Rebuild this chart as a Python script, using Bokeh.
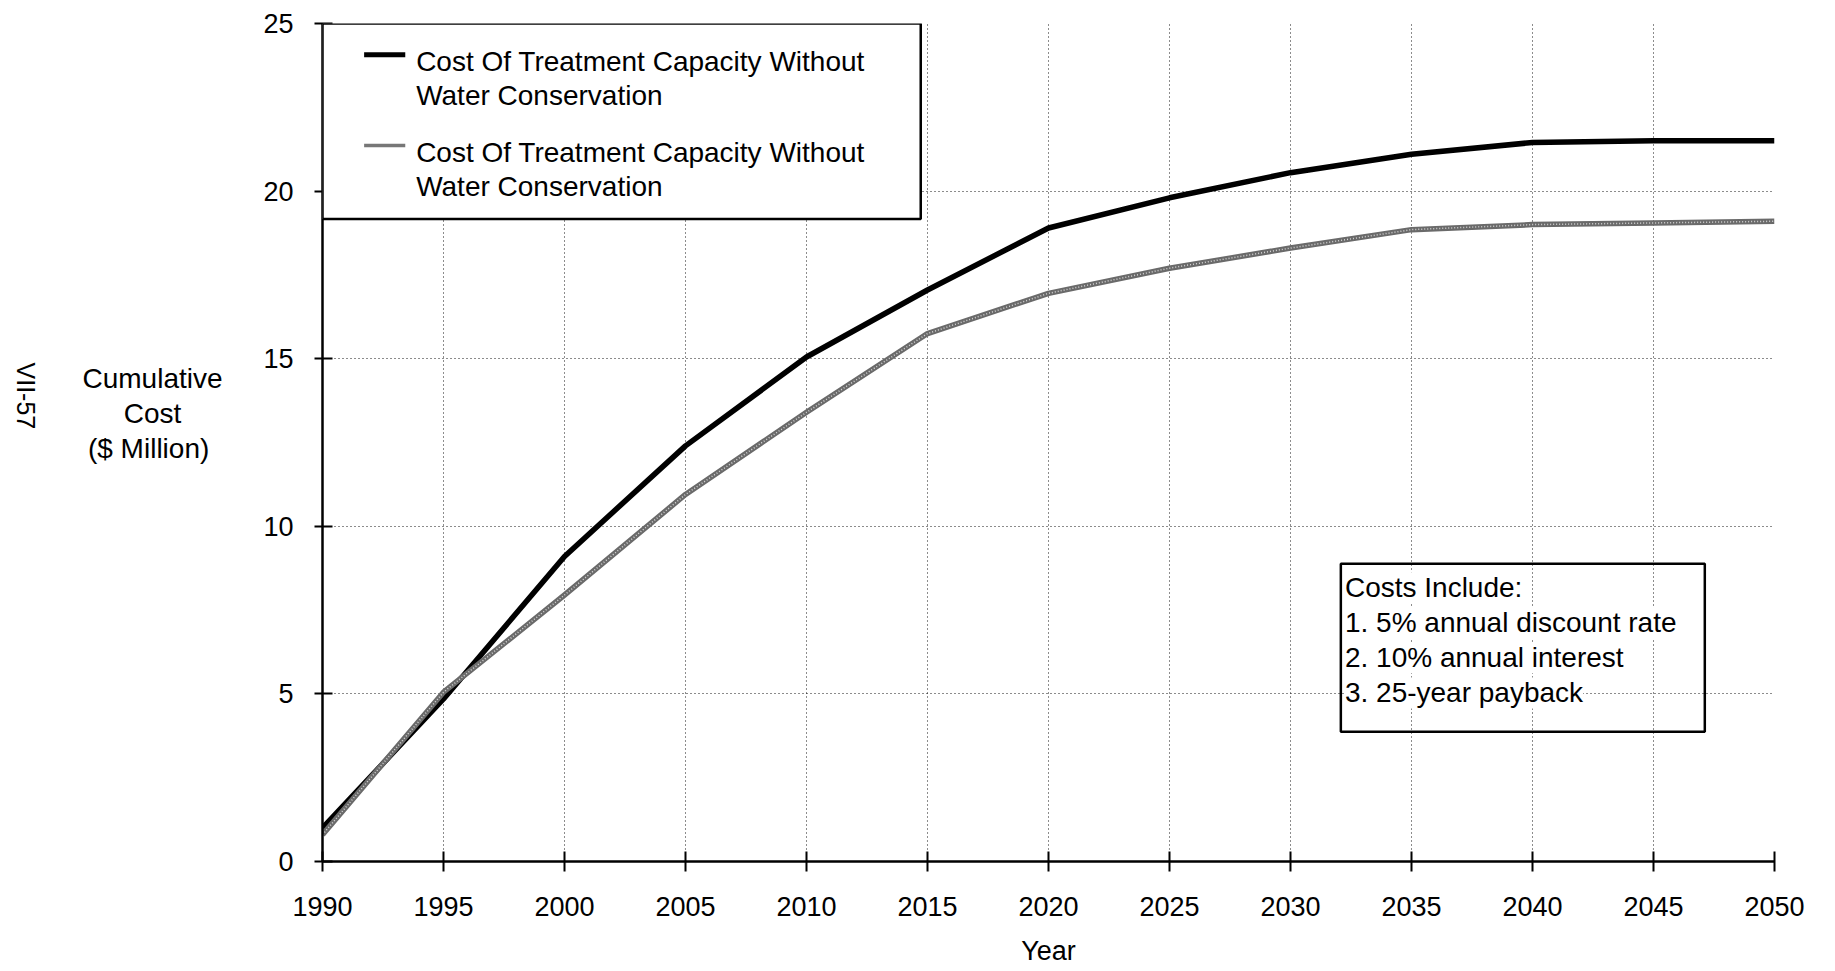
import math
from bokeh.plotting import figure
from bokeh.layouts import row
from bokeh.models import Range1d, FixedTicker, BoxAnnotation, Label
from bokeh.embed import file_html
from bokeh.resources import INLINE

# ---- data ----
years = [1990, 1995, 2000, 2005, 2010, 2015, 2020, 2025, 2030, 2035, 2040, 2045, 2050]
cost_without = [1.0, 4.85, 9.1, 12.4, 15.05, 17.05, 18.9, 19.8, 20.55, 21.1, 21.45, 21.5, 21.5]
cost_with = [0.8, 5.05, 7.95, 10.95, 13.4, 15.75, 16.95, 17.7, 18.3, 18.85, 19.0, 19.05, 19.1]
y_ticks = [0, 5, 10, 15, 20, 25]
legend_lines = ["Cost Of Treatment Capacity Without", "Water Conservation"]
note_lines = ["Costs Include:", "1. 5% annual discount rate",
              "2. 10% annual interest", "3. 25-year payback"]
y_label_lines = ["Cumulative", "Cost", "($  Million)"]
page_label = "VII-57"
x_label = "Year"

FONT = "Liberation Sans"
TOTAL_W, H = 1835, 971
LEFT_W = 240

y_range = Range1d(y_ticks[0], y_ticks[-1])

# ---------- main chart ----------
p = figure(width=TOTAL_W - LEFT_W, height=H,
           x_range=Range1d(years[0], years[-1]), y_range=y_range,
           output_backend="svg", toolbar_location=None,
           min_border_left=82, min_border_right=61, min_border_top=23,
           min_border_bottom=110)
p.outline_line_color = None

p.xaxis.ticker = FixedTicker(ticks=years)
p.yaxis.ticker = FixedTicker(ticks=y_ticks)
for ax in (p.xaxis[0], p.yaxis[0]):
    ax.axis_line_color = "black"
    ax.axis_line_width = 2.5
    ax.major_tick_line_color = "black"
    ax.major_tick_line_width = 2
    ax.minor_tick_line_color = None
    ax.major_label_text_font = FONT
    ax.major_label_text_font_size = "27px"
    ax.major_label_text_color = "black"
p.xaxis.major_tick_in = 10
p.xaxis.major_tick_out = 10
p.xaxis.major_label_standoff = 25
p.yaxis.major_tick_in = 10
p.yaxis.major_tick_out = 8
p.yaxis.major_label_standoff = 21

p.xaxis.axis_label = x_label
p.xaxis.axis_label_text_font = FONT
p.xaxis.axis_label_text_font_size = "27px"
p.xaxis.axis_label_text_font_style = "normal"
p.xaxis.axis_label_text_color = "black"
p.xaxis.axis_label_standoff = 17

for g in (p.xgrid[0], p.ygrid[0]):
    g.grid_line_color = "black"
    g.grid_line_width = 1
    g.grid_line_dash = "1 3"
    g.grid_line_alpha = 0.9

# data lines
p.line(years, cost_without, line_color="black", line_width=5.5, line_join="round")
p.line(years, cost_with, line_color="#6a6a6a", line_width=5.5, line_join="round")
p.line(years, cost_with, line_color="#d4d4d4", line_width=1.5, line_dash="1 2", line_join="round")

# legend box (manual)
p.add_layout(BoxAnnotation(left=1990, right=2014.72, top=25, bottom=19.17,
                           fill_color="white", fill_alpha=1.0,
                           line_color="black", line_alpha=1.0, line_width=2.5))
p.add_layout(BoxAnnotation(left=1991.72, right=1993.42, top=24.145, bottom=23.995,
                           fill_color="black", fill_alpha=1.0, line_color=None))
p.add_layout(BoxAnnotation(left=1991.72, right=1993.42, top=21.41, bottom=21.31,
                           fill_color="#777777", fill_alpha=1.0, line_color=None))
for yy, txt in zip([23.86, 22.84, 21.14, 20.13], legend_lines + legend_lines):
    p.add_layout(Label(x=1993.87, y=yy, text=txt, text_font=FONT, text_font_size="28px",
                       text_align="left", text_baseline="middle", text_color="black"))

# note box (transparent, text on white)
p.add_layout(BoxAnnotation(left=2032.08, right=2047.12, top=8.88, bottom=3.87,
                           fill_alpha=0.0, line_color="black", line_alpha=1.0, line_width=2.5))
for yy, txt in zip([8.17, 7.12, 6.08, 5.03], note_lines):
    p.add_layout(Label(x=2032.25, y=yy, text=txt, text_font=FONT, text_font_size="28px",
                       text_align="left", text_baseline="middle", text_color="black",
                       background_fill_color="white", background_fill_alpha=1.0))

# ---------- left strip: y title and page number (shares the y scale) ----------
side = figure(width=LEFT_W, height=H, x_range=Range1d(0, LEFT_W), y_range=y_range,
              x_axis_type=None, y_axis_type=None, output_backend="svg", toolbar_location=None,
              min_border=0, min_border_left=0, min_border_right=0,
              min_border_top=23, min_border_bottom=110)
side.outline_line_color = None
side.grid.visible = False
for yy, txt in zip([14.40, 13.36, 12.31], y_label_lines):
    side.add_layout(Label(x=152, y=yy, text=txt, text_font=FONT, text_font_size="28px",
                          text_align="center", text_baseline="middle", text_color="black"))
side.add_layout(Label(x=25, y=13.89, text=page_label, text_font=FONT, text_font_size="25px",
                      angle=-math.pi / 2, text_align="center", text_baseline="middle",
                      text_color="black"))

layout = row(side, p, spacing=0)
open("out.html", "w").write(file_html(layout, INLINE))
